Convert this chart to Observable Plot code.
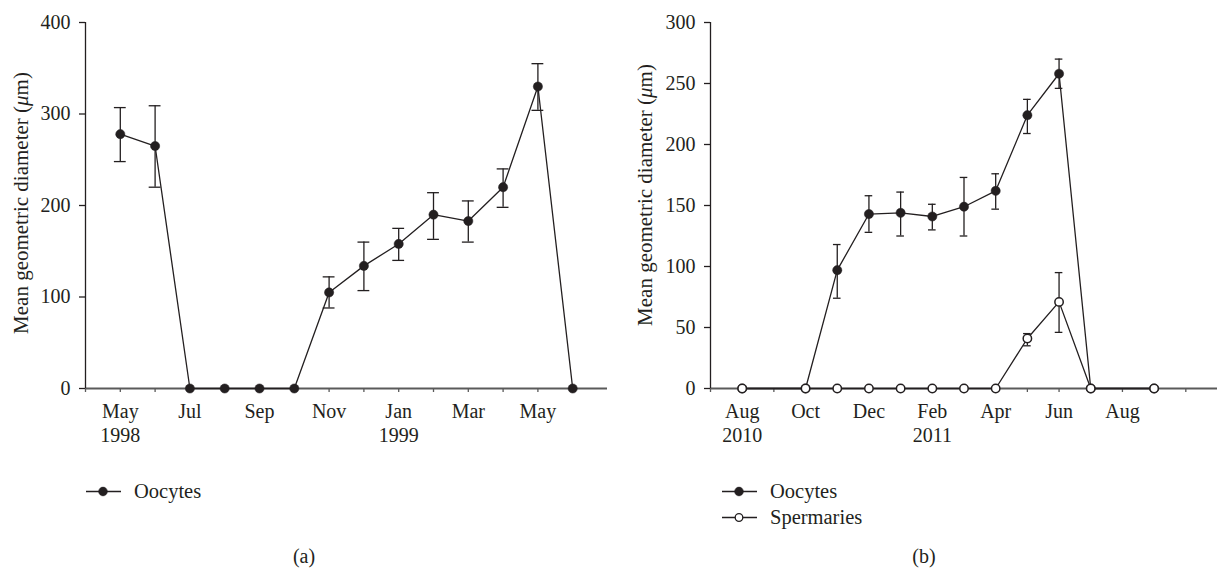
<!DOCTYPE html>
<html><head><meta charset="utf-8">
<script src="https://cdn.jsdelivr.net/npm/d3@7"></script>
<script src="https://cdn.jsdelivr.net/npm/@observablehq/plot@0.6"></script>
<style>
body{margin:0;background:#fff;overflow:hidden;font-family:"Liberation Serif",serif;color:#231f20}
#root{position:relative;width:1217px;height:569px;overflow:hidden}
.panel{position:absolute;top:0}
.ytitle{position:absolute;transform:translate(-50%,-50%) rotate(-90deg);white-space:nowrap;font-size:21px}
.leg{position:absolute;display:flex;align-items:center;font-size:20.5px;white-space:nowrap;transform:translateY(-50%)}
.leg svg{margin-right:13px}
.cap{position:absolute;transform:translate(-50%,-50%);font-size:20px}
</style></head><body><div id="root"></div>
<script>
// ---------- Panel (a) data ----------
const leftStart = "1998-04";
const leftEnd = "1999-07";
const leftDates = ["1998-05","1998-06","1998-07","1998-08","1998-09","1998-10","1998-11","1998-12","1999-01","1999-02","1999-03","1999-04","1999-05","1999-06"];
const leftOocytes = [278,265,0,0,0,0,105,134,158,190,183,220,330,0];
const leftOocytesLow = [248,220,null,null,null,null,88,107,140,163,160,198,304,null];
const leftOocytesHigh = [307,309,null,null,null,null,122,160,175,214,205,240,355,null];
const leftTickDates = ["1998-05","1998-07","1998-09","1998-11","1999-01","1999-03","1999-05"];
const leftTickNames = ["May","Jul","Sep","Nov","Jan","Mar","May"];
const leftYearDates = ["1998-05","1999-01"];
const leftYears = ["1998","1999"];
const leftYTicks = [0,100,200,300,400];

// ---------- Panel (b) data ----------
const rightStart = "2010-07";
const rightEnd = "2011-11";
const rightDates = ["2010-08","2010-10","2010-11","2010-12","2011-01","2011-02","2011-03","2011-04","2011-05","2011-06","2011-07","2011-09"];
const rightOocytes = [0,0,97,143,144,141,149,162,224,258,0,0];
const rightOocytesLow = [null,null,74,128,125,130,125,147,209,246,null,null];
const rightOocytesHigh = [null,null,118,158,161,151,173,176,237,270,null,null];
const rightSpermaries = [0,0,0,0,0,0,0,0,41,71,0,0];
const rightSpermariesLow = [null,null,null,null,null,null,null,null,35,46,null,null];
const rightSpermariesHigh = [null,null,null,null,null,null,null,null,45,95,null,null];
const rightTickDates = ["2010-08","2010-10","2010-12","2011-02","2011-04","2011-06","2011-08"];
const rightTickNames = ["Aug","Oct","Dec","Feb","Apr","Jun","Aug"];
const rightYearDates = ["2010-08","2011-02"];
const rightYears = ["2010","2011"];
const rightYTicks = [0,50,100,150,200,250,300];

const seriesNames = ["Oocytes","Spermaries"];
const yTitle = 'Mean geometric diameter (<i>μ</i>m)';
const captions = ["(a)","(b)"];

// ---------- helpers ----------
const ink = "#231f20";
function monthIndex(s, start) {
  const [y, m] = s.split("-").map(Number);
  const [y0, m0] = start.split("-").map(Number);
  return (y - y0) * 12 + (m - m0);
}
function rows(dates, values, low, high, start) {
  return dates.map((d, k) => ({i: monthIndex(d, start), v: values[k], lo: low[k], hi: high[k]}));
}

function panel({start, end, series, tickDates, tickNames, yearDates, years, yTicks, width, marginLeft, marginRight, capW}) {
  const n = monthIndex(end, start);
  const labelMap = new Map(tickDates.map((d, k) => [monthIndex(d, start), tickNames[k]]));
  const yMax = yTicks[yTicks.length - 1];
  const marks = [
    Plot.ruleY([0], {stroke: "#5a5a5a", strokeWidth: 1.8}),
    Plot.ruleX([0], {y1: 0, y2: yMax, stroke: ink, strokeWidth: 1.3}),
    Plot.axisX({ticks: d3.range(0, n), tickSize: 4, tickPadding: 11.5, stroke: "#5a5a5a", strokeWidth: 1.3,
      tickFormat: i => labelMap.get(i) ?? "", fill: ink, fontSize: 20, label: null}),
    Plot.axisY({ticks: yTicks, tickSize: 6, tickPadding: 9, stroke: ink, strokeWidth: 1.3, label: null, fill: ink, fontSize: 20}),
  ];
  for (const s of series) marks.push(Plot.line(s.data, {x: "i", y: "v", stroke: ink, strokeWidth: 1.3}));
  for (const s of series) {
    const e = s.data.filter(d => d.lo != null);
    marks.push(Plot.ruleX(e, {x: "i", y1: "lo", y2: "hi", stroke: ink, strokeWidth: 1.3}));
    marks.push(Plot.ruleY(e, {y: "hi", x1: d => d.i - capW, x2: d => d.i + capW, stroke: ink, strokeWidth: 1.3}));
    marks.push(Plot.ruleY(e, {y: "lo", x1: d => d.i - capW, x2: d => d.i + capW, stroke: ink, strokeWidth: 1.3}));
  }
  for (const s of series) {
    marks.push(s.filled
      ? Plot.dot(s.data, {x: "i", y: "v", r: 4.6, fill: ink, stroke: ink, strokeWidth: 0.5})
      : Plot.dot(s.data, {x: "i", y: "v", r: 4.2, fill: "white", stroke: ink, strokeWidth: 1.5}));
  }
  marks.push(Plot.text(yearDates.map((d, k) => ({i: monthIndex(d, start), t: years[k]})),
    {x: "i", y: () => 0, text: "t", dy: 47, lineAnchor: "middle", fontSize: 20, fill: ink}));
  return Plot.plot({
    width, height: 455,
    marginLeft, marginRight, marginTop: 22, marginBottom: 67,
    x: {domain: [0, n], range: [marginLeft, width - marginRight], label: null},
    y: {domain: [0, yMax], label: null},
    style: {fontFamily: '"Liberation Serif", serif', fontSize: "20px", color: ink, background: "white", overflow: "visible"},
    marks
  });
}

const root = document.getElementById("root");

const left = panel({
  start: leftStart, end: leftEnd,
  series: [{data: rows(leftDates, leftOocytes, leftOocytesLow, leftOocytesHigh, leftStart), filled: true}],
  tickDates: leftTickDates, tickNames: leftTickNames, yearDates: leftYearDates, years: leftYears,
  yTicks: leftYTicks, width: 610, marginLeft: 85, marginRight: 3, capW: 0.17
});
left.classList.add("panel"); left.style.left = "0px";
root.appendChild(left);

const right = panel({
  start: rightStart, end: rightEnd,
  series: [
    {data: rows(rightDates, rightOocytes, rightOocytesLow, rightOocytesHigh, rightStart), filled: true},
    {data: rows(rightDates, rightSpermaries, rightSpermariesLow, rightSpermariesHigh, rightStart), filled: false}
  ],
  tickDates: rightTickDates, tickNames: rightTickNames, yearDates: rightYearDates, years: rightYears,
  yTicks: rightYTicks, width: 605, marginLeft: 98, marginRight: 0, capW: 0.12
});
right.classList.add("panel"); right.style.left = "612px";
root.appendChild(right);

// axis titles
function addTitle(x, y) {
  const d = document.createElement("div");
  d.className = "ytitle"; d.style.left = x + "px"; d.style.top = y + "px";
  d.innerHTML = yTitle; root.appendChild(d);
}
addTitle(21, 203);
addTitle(645, 195);

// legends
function swatch(filled) {
  return `<svg width="35" height="12" viewBox="0 0 35 12"><line x1="0" x2="35" y1="6" y2="6" stroke="${ink}" stroke-width="1.3"/>` +
    `<circle cx="17" cy="6" r="${filled ? 4.4 : 3.8}" fill="${filled ? ink : "white"}" stroke="${ink}" stroke-width="${filled ? 0.5 : 1.3}"/></svg>`;
}
function addLegend(x, y, name, filled) {
  const d = document.createElement("div");
  d.className = "leg"; d.style.left = x + "px"; d.style.top = y + "px";
  d.innerHTML = swatch(filled) + `<span>${name}</span>`;
  root.appendChild(d);
}
addLegend(86, 491, seriesNames[0], true);
addLegend(722, 491, seriesNames[0], true);
addLegend(722, 517, seriesNames[1], false);

// captions
function addCaption(x, y, t) {
  const d = document.createElement("div");
  d.className = "cap"; d.style.left = x + "px"; d.style.top = y + "px";
  d.textContent = t; root.appendChild(d);
}
addCaption(304, 556, captions[0]);
addCaption(924, 556, captions[1]);
</script></body></html>
